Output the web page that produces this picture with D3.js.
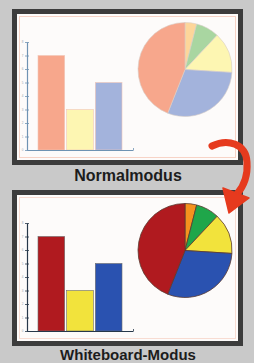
<!DOCTYPE html>
<html>
<head>
<meta charset="utf-8">
<script src="https://cdn.jsdelivr.net/npm/d3@7"></script>
<style>
  html, body { margin: 0; padding: 0; background: #c9c9c9; }
  svg { display: block; }
</style>
</head>
<body>
<div id="chart"></div>
<script>
// Chart data
var barCategories = ["A", "B", "C"];
var barValues = [7, 3, 5];
var yTickValues = [0, 1, 2, 3, 4, 5, 6, 7, 8];
var pieCategories = ["Orange", "Gruen", "Gelb", "Blau", "Rot"];
var pieValues = [4, 8, 14, 30, 44];
var panelLabels = ["Normalmodus", "Whiteboard-Modus"];

// Colours for the two modes
var modes = [
  {
    offset: 0,
    bar: ["#f7a78c", "#fdf6b2", "#a3b3dc"],
    pie: ["#fdd69a", "#a9d6a1", "#fdf6b2", "#a3b3dc", "#f7a78c"],
    pieStroke: "#d9cfc8",
    barStroke: "#f2c7b8",
    axis: "#6f93b3",
    inner: "#f7d3c6",
    fontSize: 16,
    labelY: 181
  },
  {
    offset: 181,
    bar: ["#b01a1f", "#f2e33c", "#2a52b0"],
    pie: ["#f5921e", "#1fa64a", "#f2e33c", "#2a52b0", "#b01a1f"],
    pieStroke: "#5a3a30",
    barStroke: "#6b6b6b",
    axis: "#27384a",
    inner: "#f8dcd2",
    fontSize: 15,
    labelY: 359.5
  }
];

var svgWidth = 254;
var svgHeight = 363;

var svg = d3.select("#chart")
  .append("svg")
  .attr("width", svgWidth)
  .attr("height", svgHeight);

svg.append("rect")
  .attr("width", svgWidth)
  .attr("height", svgHeight)
  .attr("fill", "#c9c9c9");

// Scales
var xScale = d3.scaleBand()
  .domain(barCategories)
  .range([38, 122])
  .paddingInner(0.07);

var xAxisScale = d3.scaleLinear()
  .domain([0, 1])
  .range([27, 133]);

var yScale = d3.scaleLinear()
  .domain([0, 8])
  .range([150, 42]);

var pie = d3.pie()
  .sort(null)
  .value(d => d);

var arc = d3.arc()
  .innerRadius(0)
  .outerRadius(47);

modes.forEach(function (mode, i) {
  var g = svg.append("g")
    .attr("transform", `translate(0, ${mode.offset})`);

  // Frame
  g.append("rect")
    .attr("x", 14.5)
    .attr("y", 11.5)
    .attr("width", 226)
    .attr("height", 151)
    .attr("fill", "#fdfbfa")
    .attr("stroke", "#3c3c3c")
    .attr("stroke-width", 5);

  g.append("rect")
    .attr("x", 19.5)
    .attr("y", 16.5)
    .attr("width", 216)
    .attr("height", 141)
    .attr("fill", "none")
    .attr("stroke", mode.inner)
    .attr("stroke-width", 1);

  // Bars
  g.selectAll(".bar")
    .data(barValues)
    .enter()
    .append("rect")
    .attr("class", "bar")
    .attr("x", (d, j) => xScale(barCategories[j]))
    .attr("y", d => yScale(d))
    .attr("width", xScale.bandwidth())
    .attr("height", d => yScale(0) - yScale(d))
    .attr("fill", (d, j) => mode.bar[j])
    .attr("stroke", mode.barStroke)
    .attr("stroke-width", 0.6);

  // Y axis
  var yAxis = d3.axisLeft(yScale)
    .tickValues(yTickValues)
    .tickSize(2)
    .tickSizeOuter(0);

  var yg = g.append("g")
    .attr("transform", "translate(27, 0)")
    .call(yAxis);

  yg.select(".domain").attr("stroke", mode.axis).attr("stroke-width", 1.2);
  yg.selectAll(".tick line")
    .attr("x1", 2)
    .attr("x2", -2)
    .attr("stroke", mode.axis)
    .attr("stroke-width", 0.8);
  yg.selectAll(".tick text")
    .attr("x", -3.5)
    .style("font-size", "3px")
    .style("font-family", "Liberation Sans, Arial, sans-serif")
    .attr("fill", "#9aa4ad");

  // X axis
  var xAxis = d3.axisBottom(xAxisScale)
    .tickValues([1])
    .tickSize(-2)
    .tickSizeOuter(0)
    .tickFormat("");

  var xg = g.append("g")
    .attr("transform", "translate(0, 150)")
    .call(xAxis);

  xg.select(".domain").attr("stroke", mode.axis).attr("stroke-width", 1.2);
  xg.selectAll(".tick line").attr("stroke", mode.axis).attr("stroke-width", 0.8);

  // Pie
  var pg = g.append("g")
    .attr("transform", "translate(185, 69.5)");

  pg.selectAll("path")
    .data(pie(pieValues))
    .enter()
    .append("path")
    .attr("d", arc)
    .attr("fill", (d, j) => mode.pie[j])
    .attr("stroke", mode.pieStroke)
    .attr("stroke-width", i === 0 ? 0.6 : 0.8)
    .attr("stroke-linejoin", "round");

  // Label
  svg.append("text")
    .attr("x", 128)
    .attr("y", mode.labelY)
    .attr("text-anchor", "middle")
    .style("font-family", "Liberation Sans, Arial, sans-serif")
    .style("font-weight", "bold")
    .style("font-size", mode.fontSize + "px")
    .attr("fill", "#1c1c1c")
    .text(panelLabels[i]);
});

// Red curved arrow
svg.append("path")
  .attr("d", "M212,146 C228,138 246,144 247,162 C248,176 244,186 237,194")
  .attr("fill", "none")
  .attr("stroke", "#e63a1e")
  .attr("stroke-width", 7)
  .attr("stroke-linecap", "round");

svg.append("path")
  .attr("d", "M223,188 L249,198 L229,213 Z")
  .attr("fill", "#e63a1e")
  .attr("stroke", "#e63a1e")
  .attr("stroke-width", 1.5)
  .attr("stroke-linejoin", "round");
</script>
</body>
</html>
